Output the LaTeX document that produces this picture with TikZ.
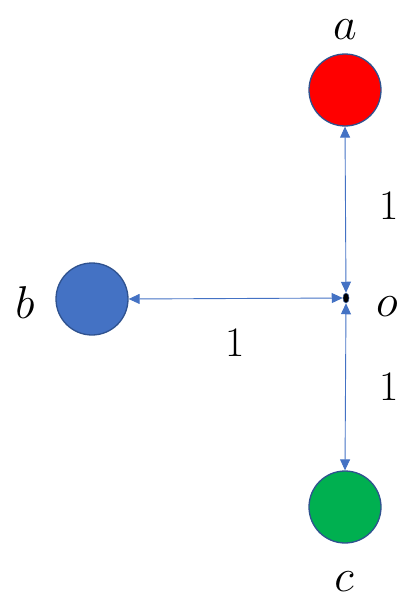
\RequirePackage{fix-cm}
\documentclass[tikz,border=0pt]{standalone}
\usetikzlibrary{arrows.meta,shapes.geometric}
\definecolor{edgeblue}{HTML}{4472C4}
\definecolor{rimblue}{HTML}{2F528F}
\definecolor{fillred}{HTML}{FF0000}
\definecolor{fillblue}{HTML}{4472C4}
\definecolor{fillgreen}{HTML}{00B050}
\tikzset{
  ball/.style={circle, draw=rimblue, line width=1.3pt, minimum size=72pt, inner sep=0pt},
  link/.style={draw=edgeblue, line width=0.9pt, {Triangle[length=11pt,width=10pt]}-{Triangle[length=11pt,width=10pt]}},
  lbl/.style={inner sep=0pt, font=\fontsize{46}{54}\selectfont},
  num/.style={inner sep=0pt, font=\fontsize{42}{50}\selectfont},
}
\begin{document}
\begin{tikzpicture}[x=1pt,y=-1pt]
\useasboundingbox (0,0) rectangle (412,602);
\node[ball, fill=fillred] (a) at (345,90) {};
\node[ball, fill=fillblue] (b) at (92,299) {};
\node[ball, fill=fillgreen] (c) at (345,507) {};
\node[ellipse, fill=black, draw=rimblue, line width=0.5pt, minimum width=6pt, minimum height=10pt, inner sep=0pt] (o) at (346,298) {};
\node[lbl] (la) at (345,30) {$a$};
\node[lbl] (lb) at (25,303) {$b$};
\node[lbl] (lo) at (387,307) {$o$};
\node[lbl] (lc) at (344,582) {$c$};
\node[num] (n1) at (389,206) {1};
\node[num] (n2) at (235,343) {1};
\node[num] (n3) at (389,387) {1};
\draw[link] (a.south) -- (o.north);
\draw[link] (b.east) -- (o.west);
\draw[link] (c.north) -- (o.south);
\end{tikzpicture}
\end{document}
